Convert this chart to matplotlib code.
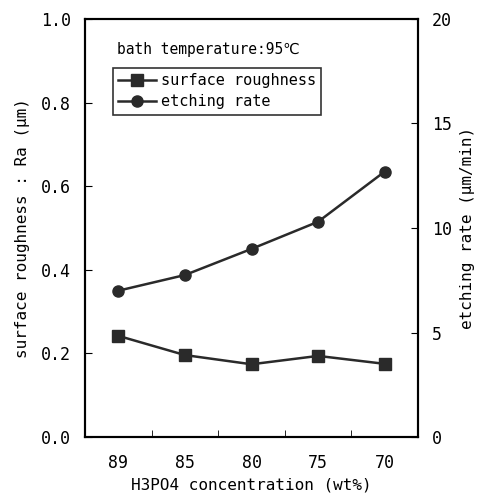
import numpy as np
import matplotlib.pyplot as plt

plt.rcParams['font.family'] = ['DejaVu Sans Mono', 'DejaVu Sans']

# datos
conc = ['89', '85', '80', '75', '70']
roughness = [0.242, 0.196, 0.174, 0.194, 0.175]   # Ra (um)
etch_rate = [7.0, 7.75, 9.0, 10.3, 12.7]           # um/min

x = np.arange(len(conc))

fig = plt.figure(figsize=(4.82, 4.98), dpi=100)
ax = fig.add_axes([85/482, 1-437/498, (418-85)/482, (437-19)/498])
ax2 = ax.twinx()

l1, = ax.plot(x, roughness, color='#2a2a2a', lw=1.8, marker='s', ms=8,
              label='surface roughness')
l2, = ax2.plot(x, etch_rate, color='#2a2a2a', lw=1.8, marker='o', ms=8,
               label='etching rate')

ax.set_xlim(-0.5, 4.5)
ax.set_ylim(0, 1.0)
ax2.set_ylim(0, 20)
ax.set_xticks(x)
ax.set_xticklabels(conc)
ax.set_xticks(x[:-1] + 0.5, minor=True)
ax.tick_params(axis='x', which='major', length=0, pad=12, labelsize=12)
ax.tick_params(axis='x', which='minor', direction='in', length=5)
ax.set_yticks(np.arange(0, 1.01, 0.2))
ax.set_yticklabels(['%.1f' % v for v in np.arange(0, 1.01, 0.2)])
ax.tick_params(axis='y', direction='in', length=5, pad=10, labelsize=12)
ax2.set_yticks([0, 5, 10, 15, 20])
ax2.tick_params(axis='y', direction='in', length=5, pad=10, labelsize=12)

for a in (ax, ax2):
    for s in a.spines.values():
        s.set_linewidth(1.5)

ax.set_xlabel('H3PO4 concentration (wt%)', fontsize=11.5)
ax.set_ylabel('surface roughness : Ra (μm)', fontsize=11.5, labelpad=8)
ax2.set_ylabel('etching rate (μm/min)', fontsize=11.5, labelpad=6)

ax.text(0.096, 0.926, 'bath temperature:95℃', transform=ax.transAxes,
        fontsize=10.5, ha='left', va='center')
leg = ax.legend(handles=[l1, l2], loc='upper left', bbox_to_anchor=(0.083, 0.883),
                fontsize=11, frameon=True, fancybox=False, handlelength=2.5,
                borderpad=0.35, labelspacing=0.4, handletextpad=0.3,
                borderaxespad=0)
leg.get_frame().set_edgecolor('black')
leg.get_frame().set_linewidth(1.2)

plt.savefig('out.png', dpi=100)
